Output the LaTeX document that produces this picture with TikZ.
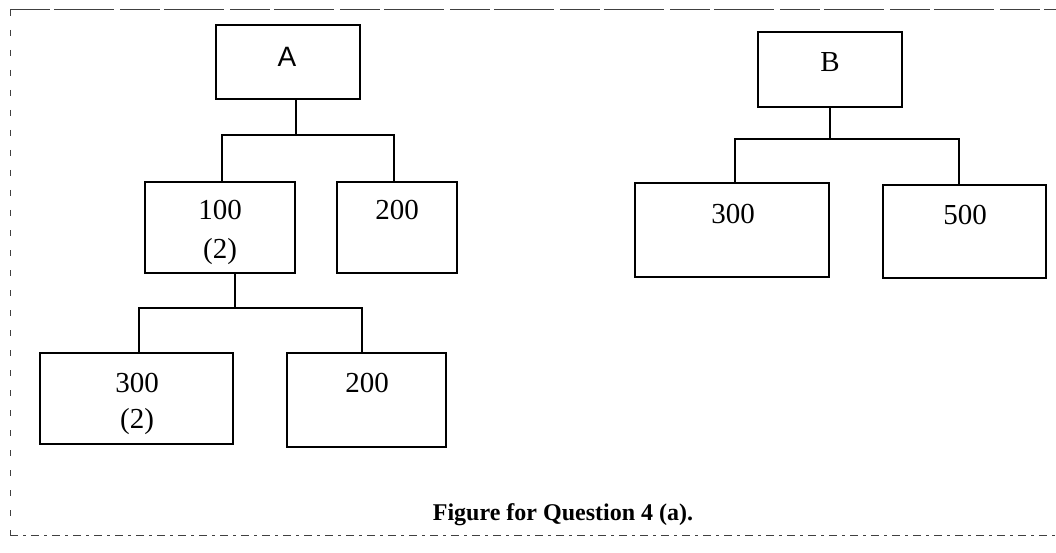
\documentclass[tikz,border=0pt]{standalone}
\usepackage{fontspec}
\setmainfont{Liberation Serif}
\newfontfamily\sansA{Liberation Sans}
\begin{document}
\begin{tikzpicture}[x=1pt,y=-1pt]
\tikzset{
  box/.style={draw, line width=2pt, inner sep=0pt},
  txt/.style={inner sep=0pt, anchor=base, font=\fontsize{29}{34}\selectfont},
  conn/.style={line width=2pt},
  frame/.style={line width=1pt, draw=black!75}
}
\useasboundingbox (0,0) rectangle (1056,553);
% frame
\draw[frame, dash pattern=on 40pt off 4pt on 60pt off 6pt] (10,10) -- (1056,10);
\draw[frame, line width=0.8pt, dash pattern=on 6pt off 14pt] (10,10) -- (10,535);
\draw[frame, line width=0.8pt, dash pattern=on 8pt off 5pt on 3pt off 5pt] (10,535) -- (1056,535);
% tree A
\node[box, minimum width=144pt, minimum height=74pt] (A) at (288,62) {};
\node[inner sep=0pt, anchor=base, font=\sansA\fontsize{28}{32}\selectfont] (tA) at (287,67) {A};
\node[box, minimum width=150pt, minimum height=91pt] (n100) at (220,227.5) {};
\node[txt] (t100) at (220,220) {100};
\node[txt] (t100b) at (220,258) {(2)};
\node[box, minimum width=120pt, minimum height=91pt] (n200a) at (397,227.5) {};
\node[txt] (t200a) at (397,220) {200};
\node[box, minimum width=193pt, minimum height=91pt] (n300a) at (136.5,398.5) {};
\node[txt] (t300a) at (137,392) {300};
\node[txt] (t300ab) at (137,428) {(2)};
\node[box, minimum width=159pt, minimum height=94pt] (n200b) at (366.5,400) {};
\node[txt] (t200b) at (367,392) {200};
\coordinate (jA) at (296,135);
\coordinate (j100) at (235,308);
\draw[conn] (A.south -| jA) -- (jA);
\draw[conn] ([xshift=2pt]n100.north) |- (jA) -| ([xshift=-3pt]n200a.north);
\draw[conn] (n100.south -| j100) -- (j100);
\draw[conn] ([xshift=2.5pt]n300a.north) |- (j100) -| ([xshift=-4.5pt]n200b.north);
% tree B
\node[box, minimum width=144pt, minimum height=75pt] (B) at (830,69.5) {};
\node[txt] (tB) at (830,72) {B};
\node[box, minimum width=194pt, minimum height=94pt] (n300b) at (732,230) {};
\node[txt] (t300b) at (733,223) {300};
\node[box, minimum width=163pt, minimum height=93pt] (n500) at (964.5,231.5) {};
\node[txt] (t500) at (965,225) {500};
\coordinate (jB) at (830,139);
\draw[conn] (B.south) -- (jB);
\draw[conn] ([xshift=3pt]n300b.north) |- (jB) -| ([xshift=-5.5pt]n500.north);
% caption
\node[inner sep=0pt, anchor=base, font=\bfseries\fontsize{24}{28}\selectfont] (cap) at (563,520) {Figure for Question 4 (a).};
\end{tikzpicture}
\end{document}
